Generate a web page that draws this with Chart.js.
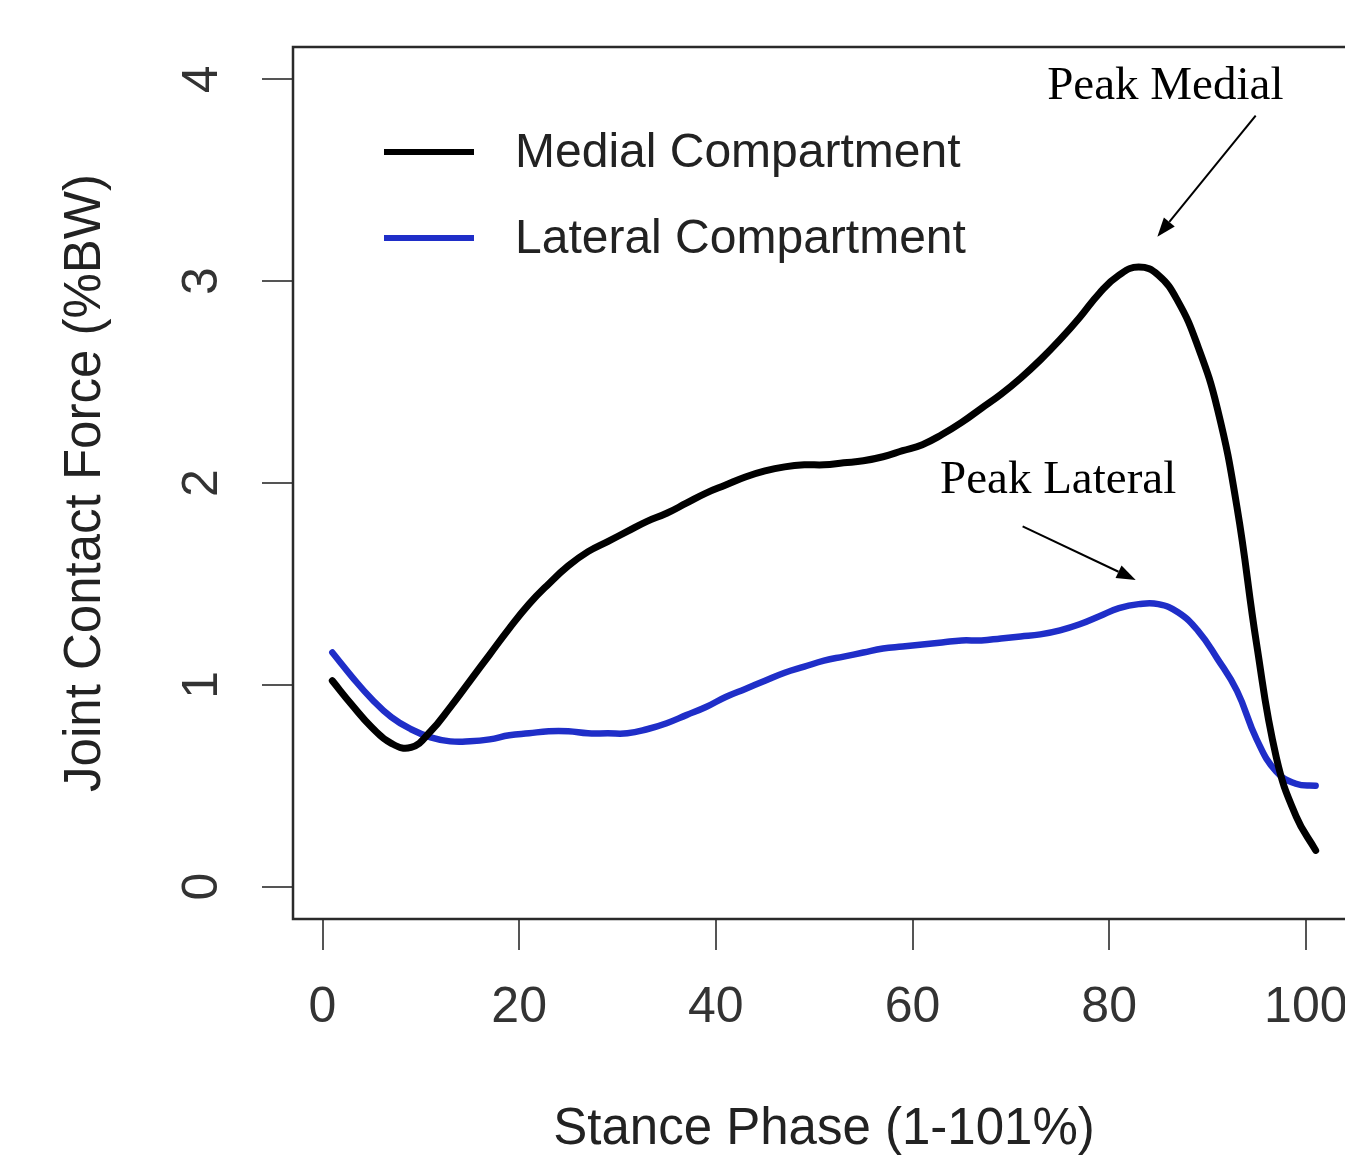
<!DOCTYPE html>
<html>
<head>
<meta charset="utf-8">
<script src="https://cdn.jsdelivr.net/npm/chart.js@4.4.1/dist/chart.umd.min.js"></script>
<style>
  html, body { margin: 0; padding: 0; background: #fff; overflow: hidden; }
  #wrap { width: 1400px; height: 1163px; }
</style>
</head>
<body>
<div id="wrap"><canvas id="forceChart" width="1400" height="1163"></canvas></div>
<script>
// stance phase (%) sampled every 2 %
const stancePct = [1, 3, 5, 7, 9, 11, 13, 15, 17, 19, 21, 23, 25, 27, 29, 31, 33, 35, 37, 39,
  41, 43, 45, 47, 49, 51, 53, 55, 57, 59, 61, 63, 65, 67, 69, 71, 73, 75, 77, 79,
  81, 83, 85, 87, 89, 91, 93, 95, 97, 99, 101];

// joint contact force (%BW)
const medialForce = [1.02, 0.90, 0.79, 0.71, 0.69, 0.77, 0.89, 1.02, 1.15, 1.28, 1.40, 1.50, 1.59, 1.66, 1.71, 1.76, 1.81, 1.85, 1.90, 1.95,
  1.99, 2.03, 2.06, 2.08, 2.09, 2.09, 2.10, 2.11, 2.13, 2.16, 2.19, 2.24, 2.30, 2.37, 2.44, 2.52, 2.61, 2.71, 2.82, 2.94,
  3.03, 3.07, 3.03, 2.90, 2.68, 2.37, 1.88, 1.20, 0.64, 0.35, 0.18];
const lateralForce = [1.16, 1.04, 0.93, 0.84, 0.78, 0.74, 0.72, 0.72, 0.73, 0.75, 0.76, 0.77, 0.77, 0.76, 0.76, 0.76, 0.78, 0.81, 0.85, 0.89,
  0.94, 0.98, 1.02, 1.06, 1.09, 1.12, 1.14, 1.16, 1.18, 1.19, 1.20, 1.21, 1.22, 1.22, 1.23, 1.24, 1.25, 1.27, 1.30, 1.34,
  1.38, 1.40, 1.40, 1.36, 1.27, 1.13, 0.97, 0.73, 0.57, 0.51, 0.50];

const seriesNames = ['Medial Compartment', 'Lateral Compartment'];
const seriesColors = ['#000000', '#1f2ec8'];
const xTickValues = [0, 20, 40, 60, 80, 100];
const yTickValues = [0, 1, 2, 3, 4];

const SANS = '"Liberation Sans", Arial, Helvetica, sans-serif';
const SERIF = '"Liberation Serif", "Times New Roman", serif';

function toPoints(xs, ys) {
  return xs.map((x, i) => ({ x: x, y: ys[i] }));
}

// R style box round the plot region
const boxPlugin = {
  id: 'box',
  afterDraw(chart) {
    const a = chart.chartArea, ctx = chart.ctx;
    ctx.save();
    ctx.strokeStyle = '#2a2a2a';
    ctx.lineWidth = 2.5;
    ctx.strokeRect(a.left, a.top, a.right - a.left, a.bottom - a.top);
    ctx.restore();
  }
};

// legend drawn inside the plot, top left
const legendPlugin = {
  id: 'insideLegend',
  afterDatasetsDraw(chart) {
    const a = chart.chartArea, ctx = chart.ctx;
    ctx.save();
    ctx.font = '48px ' + SANS;
    ctx.textBaseline = 'middle';
    ctx.textAlign = 'left';
    chart.data.datasets.forEach((ds, i) => {
      const y = a.top + 105 + i * 86;
      ctx.strokeStyle = ds.borderColor;
      ctx.lineWidth = 6;
      ctx.beginPath();
      ctx.moveTo(a.left + 91, y);
      ctx.lineTo(a.left + 181, y);
      ctx.stroke();
      ctx.fillStyle = '#222';
      ctx.fillText(ds.label, a.left + 222, y + 2);
    });
    ctx.restore();
  }
};

// "Peak" labels with arrows, placed in data units
const peakNotes = [
  { text: 'Peak Medial', tx: 73.7, ty: 3.965, from: [94.9, 3.82], to: [84.9, 3.22] },
  { text: 'Peak Lateral', tx: 62.8, ty: 2.01, from: [71.2, 1.785], to: [82.7, 1.52] }
];
const notesPlugin = {
  id: 'peakNotes',
  afterDatasetsDraw(chart) {
    const xs = chart.scales.x, ys = chart.scales.y, ctx = chart.ctx;
    ctx.save();
    ctx.font = '47px ' + SERIF;
    ctx.fillStyle = '#000';
    ctx.strokeStyle = '#000';
    ctx.textAlign = 'left';
    ctx.textBaseline = 'middle';
    peakNotes.forEach(n => {
      ctx.fillText(n.text, xs.getPixelForValue(n.tx), ys.getPixelForValue(n.ty));
      const x1 = xs.getPixelForValue(n.from[0]), y1 = ys.getPixelForValue(n.from[1]);
      const x2 = xs.getPixelForValue(n.to[0]), y2 = ys.getPixelForValue(n.to[1]);
      const ang = Math.atan2(y2 - y1, x2 - x1);
      const head = 19, half = 7;
      const bx = x2 - head * Math.cos(ang), by = y2 - head * Math.sin(ang);
      ctx.lineWidth = 2;
      ctx.beginPath();
      ctx.moveTo(x1, y1);
      ctx.lineTo(bx, by);
      ctx.stroke();
      ctx.beginPath();
      ctx.moveTo(x2, y2);
      ctx.lineTo(bx + half * Math.sin(ang), by - half * Math.cos(ang));
      ctx.lineTo(bx - half * Math.sin(ang), by + half * Math.cos(ang));
      ctx.closePath();
      ctx.fill();
    });
    ctx.restore();
  }
};

const ctx = document.getElementById('forceChart').getContext('2d');
new Chart(ctx, {
  type: 'line',
  data: {
    datasets: [
      {
        label: seriesNames[0],
        data: toPoints(stancePct, medialForce),
        borderColor: seriesColors[0],
        borderWidth: 7,
        pointRadius: 0,
        tension: 0.45,
        fill: false,
        borderCapStyle: 'round'
      },
      {
        label: seriesNames[1],
        data: toPoints(stancePct, lateralForce),
        borderColor: seriesColors[1],
        borderWidth: 6.5,
        pointRadius: 0,
        tension: 0.45,
        fill: false,
        borderCapStyle: 'round'
      }
    ]
  },
  options: {
    responsive: false,
    animation: false,
    events: [],
    layout: { padding: { left: 0, top: 47, right: 45, bottom: 0 } },
    plugins: { legend: { display: false }, tooltip: { enabled: false } },
    scales: {
      x: {
        type: 'linear',
        min: -3,
        max: 105,
        afterBuildTicks: s => { s.ticks = xTickValues.map(v => ({ value: v })); },
        afterFit: s => { s.height = 244; s.paddingLeft = 0; s.paddingRight = 0; },
        border: { display: false },
        grid: { drawOnChartArea: false, drawTicks: true, tickLength: 31, color: '#555', lineWidth: 2 },
        ticks: { font: { size: 50, family: SANS }, color: '#333', padding: 28, maxRotation: 0, autoSkip: false },
        title: { display: true, text: 'Stance Phase (1-101%)', font: { size: 51, family: SANS }, color: '#222', padding: { top: 0, bottom: 2 } }
      },
      y: {
        type: 'linear',
        min: -0.16,
        max: 4.16,
        afterBuildTicks: s => { s.ticks = yTickValues.map(v => ({ value: v })); },
        afterFit: s => { s.width = 293; s.paddingTop = 0; s.paddingBottom = 0; },
        border: { display: false },
        grid: { drawOnChartArea: false, drawTicks: true, tickLength: 31, color: '#555', lineWidth: 2 },
        ticks: { font: { size: 50, family: SANS }, color: '#333', padding: 45, minRotation: 90, maxRotation: 90, crossAlign: 'center' },
        title: { display: true, text: 'Joint Contact Force (%BW)', font: { size: 51, family: SANS }, color: '#222', padding: { top: 55, bottom: 0 } }
      }
    }
  },
  plugins: [boxPlugin, legendPlugin, notesPlugin]
});
</script>
</body>
</html>
